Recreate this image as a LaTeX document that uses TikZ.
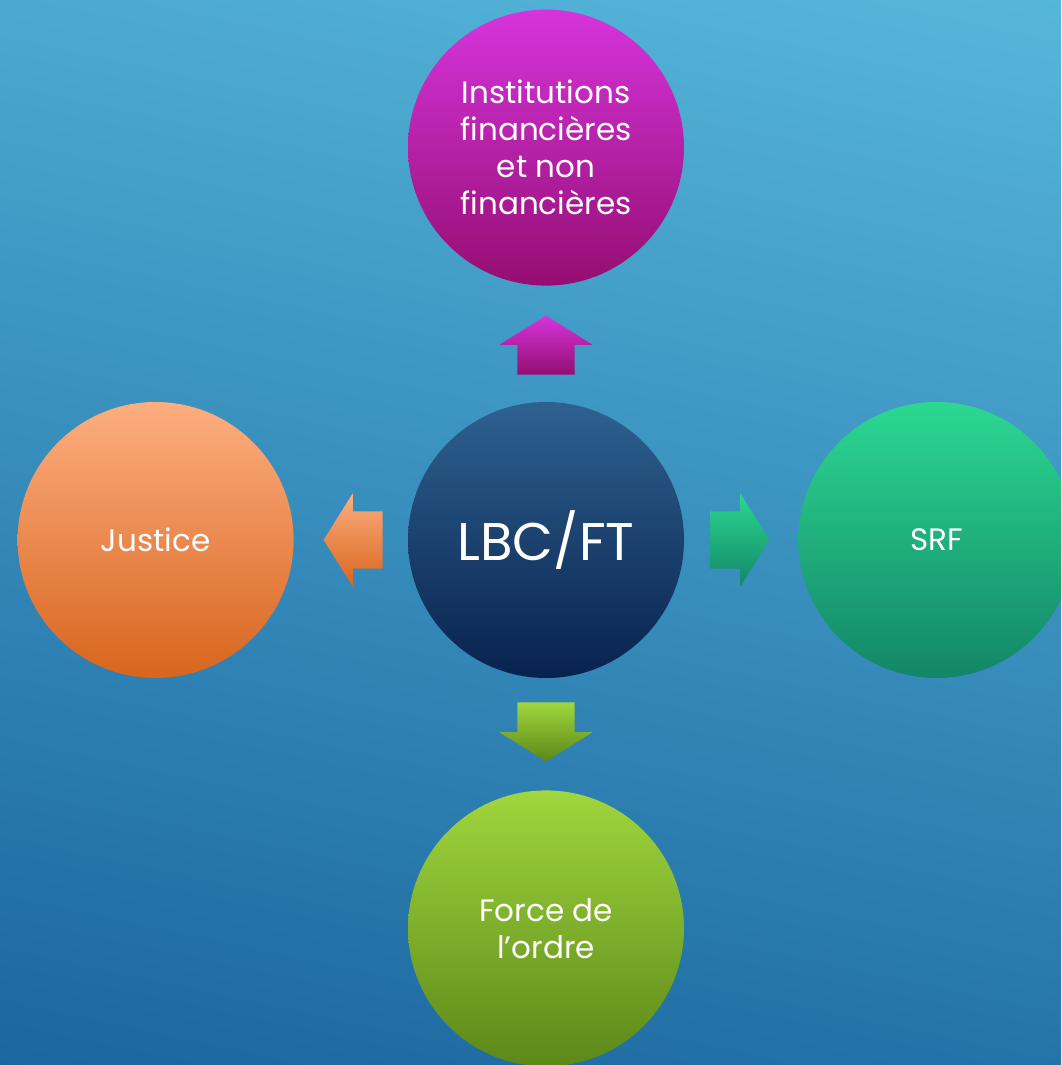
\documentclass[tikz,border=0pt]{standalone}
\usepackage{fontspec}
\setmainfont{Poppins}
\usetikzlibrary{positioning, calc, shapes.arrows}
\definecolor{bgtop}{HTML}{5ABDDF}
\definecolor{bgbot}{HTML}{16609A}
\definecolor{insttop}{HTML}{D634DC}
\definecolor{instbot}{HTML}{950E72}
\definecolor{lbctop}{HTML}{2F6190}
\definecolor{lbcbot}{HTML}{08224E}
\definecolor{justop}{HTML}{FDAE80}
\definecolor{jusbot}{HTML}{D8651E}
\definecolor{srftop}{HTML}{2CD891}
\definecolor{srfbot}{HTML}{138668}
\definecolor{fortop}{HTML}{A0D63E}
\definecolor{forbot}{HTML}{5C8818}
\tikzset{
bubble/.style={circle, minimum size=276pt, inner sep=0pt, text=white, align=center,
  font=\fontsize{31}{37}\selectfont},
blockarrow/.style={single arrow, draw=none, anchor=tail,
  single arrow head extend=18pt, single arrow tip angle=116, minimum height=59pt},
harrow/.style={blockarrow, inner xsep=0pt, inner ysep=28.5pt},
varrow/.style={blockarrow, inner xsep=28.5pt, inner ysep=0pt},
node distance=114pt}

\begin{document}
\begin{tikzpicture}[x=1pt,y=-1pt]
\useasboundingbox (0,0) rectangle (1061,1065);
\clip (0,0) rectangle (1061,1065);
\shade[top color=bgtop, bottom color=bgbot, shading angle=-12] (-200,-200) rectangle (1261,1265);
% circles
\node[bubble, top color=lbctop, bottom color=lbcbot, font=\fontsize{53}{60}\selectfont] (lbc) at (546,540) {LBC/FT};
\node[bubble, top color=insttop, bottom color=instbot] (inst) [above=116pt of lbc] {Institutions\\financières\\et non\\financières};
\node[bubble, top color=justop, bottom color=jusbot] (jus) [left=114pt of lbc] {Justice};
\node[bubble, top color=srftop, bottom color=srfbot] (srf) [right=114pt of lbc] {SRF};
\node[bubble, top color=fortop, bottom color=forbot] (for) [below=112pt of lbc] {Force de\\l’ordre};
% arrows
\node[varrow, shape border rotate=90, top color=insttop, bottom color=instbot] (toinst) at ($(lbc.north)+(0,-27)$) {};
\node[harrow, shape border rotate=180, top color=justop, bottom color=jusbot] (tojus) at ($(lbc.west)+(-25,0)$) {};
\node[harrow, top color=srftop, bottom color=srfbot] (tosrf) at ($(lbc.east)+(26,0)$) {};
\node[varrow, shape border rotate=270, top color=fortop, bottom color=forbot] (tofor) at ($(lbc.south)+(0,24)$) {};
\end{tikzpicture}
\end{document}
